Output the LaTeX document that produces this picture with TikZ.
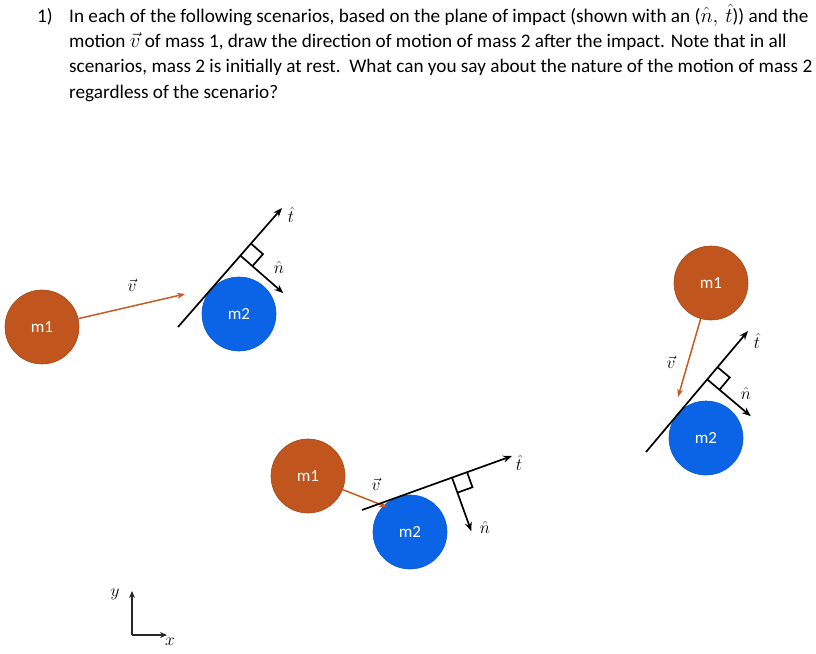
\documentclass[tikz,border=0pt]{standalone}
\usepackage{fontspec}
\setmainfont{Carlito}
\usetikzlibrary{calc,arrows.meta}
\definecolor{monecol}{RGB}{192,86,30}
\definecolor{mtwocol}{RGB}{11,99,229}
\definecolor{vcol}{RGB}{197,90,35}
\begin{document}
\begin{tikzpicture}[x=1pt,y=-1pt,
  mass/.style={circle,minimum size=74pt,inner sep=0pt,text=white,font=\fontsize{17}{20}\selectfont},
  massone/.style={mass,fill=monecol,draw=monecol!85!black,line width=0.6pt},
  masstwo/.style={mass,fill=mtwocol,draw=mtwocol!90!black,line width=0.6pt},
  vel/.style={draw=vcol,line width=1.5pt,-{Stealth[length=8pt,width=6pt]}},
  plane/.style={draw=black,line width=1.7pt,-{Stealth[length=9pt,width=7pt]}},
  sq/.style={draw=black,line width=1.7pt},
  lbl/.style={font=\fontsize{19}{22}\selectfont,inner sep=0pt},
  qtext/.style={anchor=base west,inner sep=0pt,font=\fontsize{19.2}{24}\selectfont},
  axis/.style={draw=black!85,line width=1.9pt,-{Stealth[length=7pt,width=6pt]}}]
\useasboundingbox (0,0) rectangle (816,653);

% question text
\node[qtext] (qn) at (37,22) {1)};
\node[qtext] (q1) at (69,22) {In each of the following scenarios, based on the plane of impact (shown with an ($\hat{n},\,\hat{t}$)) and the};
\node[qtext] (q2) at (69,47) {motion $\vec{v}$ of mass 1, draw the direction of motion of mass 2 after the impact. Note that in all};
\node[qtext] (q3) at (69,72) {scenarios, mass 2 is initially at rest.\ \ What can you say about the nature of the motion of mass 2};
\node[qtext] (q4) at (69,98) {regardless of the scenario?};

% ---------- scenario 1
\node[massone] (ma1) at (42,327) {m1};
\node[masstwo] (mb1) at (239,314) {m2};
\coordinate (ve1) at (185,294);
\draw[vel] (ma1) -- (ve1);
\node[lbl] (vl1) at (132,285) {$\vec{v}$};
\coordinate (A1) at (178,327);
\coordinate (B1) at (282,208);
\coordinate (C1) at ($(A1)!0.6!(B1)$);
\coordinate (N1) at ($(C1)!57pt!-90:(B1)$);
\coordinate (Ct1) at ($(C1)!16pt!(B1)$);
\coordinate (Cn1) at ($(C1)!16pt!-90:(B1)$);
\coordinate (Cs1) at ($(Ct1)!16pt!-90:(B1)$);
\draw[plane] (A1) -- (B1);
\draw[plane] (C1) -- (N1);
\draw[sq] (Ct1) -- (Cs1) -- (Cn1);
\node[lbl] (tl1) at (291,215) {$\hat{t}$};
\node[lbl] (nl1) at (279,267) {$\hat{n}$};

% ---------- scenario 2 (bottom)
\node[massone] (ma2) at (308,476) {m1};
\node[masstwo] (mb2) at (410,532) {m2};
\coordinate (ve2) at (387,507);
\draw[vel] (ma2) -- (ve2);
\node[lbl] (vl2) at (376,484) {$\vec{v}$};
\coordinate (A2) at (362,510);
\coordinate (B2) at (512,456);
\coordinate (C2) at ($(A2)!0.6!(B2)$);
\coordinate (N2) at ($(C2)!57pt!-90:(B2)$);
\coordinate (Ct2) at ($(C2)!16pt!(B2)$);
\coordinate (Cn2) at ($(C2)!16pt!-90:(B2)$);
\coordinate (Cs2) at ($(Ct2)!16pt!-90:(B2)$);
\draw[plane] (A2) -- (B2);
\draw[plane] (C2) -- (N2);
\draw[sq] (Ct2) -- (Cs2) -- (Cn2);
\node[lbl] (tl2) at (519,463) {$\hat{t}$};
\node[lbl] (nl2) at (485,527) {$\hat{n}$};

% ---------- scenario 3 (right)
\node[massone] (ma3) at (711,283) {m1};
\node[masstwo] (mb3) at (706,438) {m2};
\coordinate (ve3) at (678,397);
\draw[vel] (ma3) -- (ve3);
\node[lbl] (vl3) at (671,362) {$\vec{v}$};
\coordinate (A3) at (646,452);
\coordinate (B3) at (748,331);
\coordinate (C3) at ($(A3)!0.6!(B3)$);
\coordinate (N3) at ($(C3)!57pt!-90:(B3)$);
\coordinate (Ct3) at ($(C3)!16pt!(B3)$);
\coordinate (Cn3) at ($(C3)!16pt!-90:(B3)$);
\coordinate (Cs3) at ($(Ct3)!16pt!-90:(B3)$);
\draw[plane] (A3) -- (B3);
\draw[plane] (C3) -- (N3);
\draw[sq] (Ct3) -- (Cs3) -- (Cn3);
\node[lbl] (tl3) at (757,341) {$\hat{t}$};
\node[lbl] (nl3) at (746,393) {$\hat{n}$};

% ---------- axes
\coordinate (O) at (132,635);
\coordinate (Y) at (132,591);
\coordinate (X) at (167,635);
\draw[axis] (O) -- (Y);
\draw[axis] (O) -- (X);
\node[lbl] (yl) at (115,594) {$y$};
\node[lbl] (xl) at (170,642) {$x$};
\end{tikzpicture}
\end{document}
